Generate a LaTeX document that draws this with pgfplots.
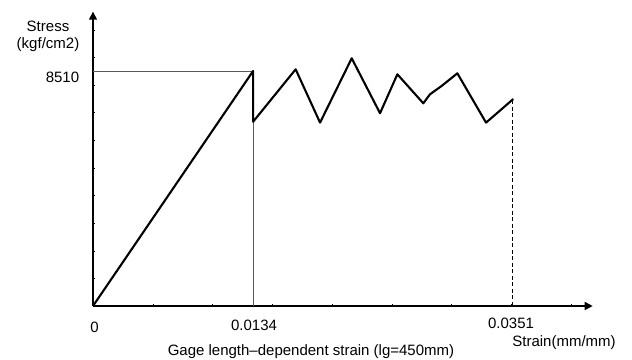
\documentclass[border=0pt]{standalone}
\usepackage{pgfplots}
\pgfplotsset{compat=1.18}
\usepackage{fontspec}
\setmainfont{Liberation Sans}
\usetikzlibrary{arrows.meta}
\begin{document}
\begin{tikzpicture}[font=\fontsize{15}{17.5}\selectfont]
\begin{axis}[
  at={(93pt,53pt)}, anchor=origin,
  scale only axis, width=499.7pt, height=294.3pt,
  xmin=0, xmax=0.041816, ymin=0, ymax=10657,
  axis lines=left,
  axis line style={line width=1.5pt, -{Triangle[length=8pt,width=8pt]}},
  xtick={0.005,0.01,...,0.0401}, ytick={1000,2000,...,10000},
  xticklabels={}, yticklabels={},
  scaled x ticks=false, scaled y ticks=false,
  tick align=inside, major tick length=2pt,
  tick style={black, line width=0.4pt},
  clip=false,
]
\addplot[gray!70!black, line width=0.9pt] coordinates {(0,8510) (0.0134,8510) (0.0134,0)};
\addplot[black, line width=1pt, dash pattern=on 4pt off 2.5pt] coordinates {(0.03512,7459) (0.03512,0)};
\addplot[black, line width=2.1pt, line join=round] coordinates {
(0,0) (0.0134,8510) (0.0134,6673) (0.01696,8571) (0.01900,6640) (0.02165,8970)
(0.02402,6980) (0.02547,8391) (0.02764,7340) (0.02820,7666) (0.02918,7970)
(0.03049,8426) (0.03289,6640) (0.03420,7130) (0.03517,7495)};
\end{axis}
\node at (48pt,322.5pt) [align=center] {Stress\\(kgf/cm2)};
\node at (62.5pt,282pt) {8510};
\node at (94.5pt,32pt) {0};
\node at (254pt,34pt) {0.0134};
\node at (511pt,36pt) {0.0351};
\node at (564pt,16pt) {Strain(mm/mm)};
\node at (311pt,7pt) {Gage length--dependent strain (lg=450mm)};
\pgfresetboundingbox
\path[use as bounding box] (0pt,0pt) rectangle (632pt,359pt);
\end{tikzpicture}
\end{document}
